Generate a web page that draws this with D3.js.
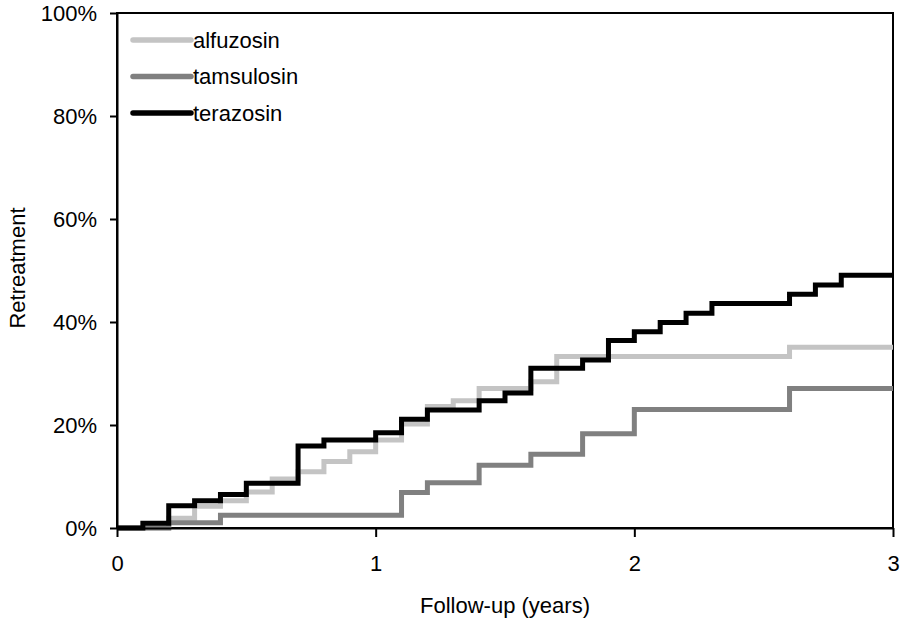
<!DOCTYPE html>
<html><head><meta charset="utf-8">
<script src="https://cdn.jsdelivr.net/npm/d3@7"></script>
<style>body{margin:0;background:#fff}svg{display:block}text{font-family:"Liberation Sans",Arial,sans-serif;fill:#000}</style>
</head><body><svg id="c" width="900" height="620"></svg>
<script>
const seriesNames = ["alfuzosin", "tamsulosin", "terazosin"];
const alfuzosinT = [0,0.2,0.3,0.4,0.5,0.6,0.7,0.8,0.9,1.0,1.1,1.2,1.3,1.4,1.6,1.7,2.6,3.0];
const alfuzosinV = [0,1.9,4.2,5.3,7.0,9.5,10.9,12.9,14.8,17.1,20.2,23.6,24.7,27.1,28.4,33.3,35.1,35.1];
const tamsulosinT = [0,0.2,0.4,1.1,1.2,1.4,1.6,1.8,2.0,2.6,3.0];
const tamsulosinV = [0,1.0,2.5,6.9,8.8,12.2,14.3,18.3,23.0,27.1,27.1];
const terazosinT = [0,0.1,0.2,0.3,0.4,0.5,0.7,0.8,1.0,1.1,1.2,1.4,1.5,1.6,1.8,1.9,2.0,2.1,2.2,2.3,2.6,2.7,2.8,3.0];
const terazosinV = [0,0.9,4.3,5.3,6.5,8.7,15.9,17.1,18.5,21.1,22.9,24.7,26.2,31.0,32.6,36.4,38.1,39.9,41.7,43.6,45.4,47.2,49.1,49.1];
const xTicks = [0,1,2,3];
const yTicks = [0,20,40,60,80,100];

const colors = {alfuzosin:"#c4c4c4", tamsulosin:"#808080", terazosin:"#000"};
const data = {
  alfuzosin: alfuzosinT.map((t,i)=>[t,alfuzosinV[i]]),
  tamsulosin: tamsulosinT.map((t,i)=>[t,tamsulosinV[i]]),
  terazosin: terazosinT.map((t,i)=>[t,terazosinV[i]])
};
const L=117,R=893,T=13,B=528;
const svg=d3.select("#c");
const x=d3.scaleLinear().domain([0,3]).range([L,R]);
const y=d3.scaleLinear().domain([0,100]).range([B,T]);
const line=d3.line().x(d=>x(d[0])).y(d=>y(d[1])).curve(d3.curveStepAfter);

svg.append("rect").attr("x",L).attr("y",T).attr("width",R-L).attr("height",B-T)
  .attr("fill","none").attr("stroke","#000").attr("stroke-width",2);

seriesNames.forEach(k=>{
  svg.append("path").datum(data[k]).attr("d",line).attr("fill","none")
    .attr("stroke",colors[k]).attr("stroke-width",5).attr("stroke-linejoin","miter").attr("stroke-linecap","butt");
});

const xa=svg.append("g").attr("transform",`translate(0,${B})`)
  .call(d3.axisBottom(x).tickValues(xTicks).tickFormat(d3.format("d")).tickSize(9).tickPadding(18).tickSizeOuter(0));
const ya=svg.append("g").attr("transform",`translate(${L},0)`)
  .call(d3.axisLeft(y).tickValues(yTicks).tickFormat(d=>d+"%").tickSize(7).tickPadding(13).tickSizeOuter(0));
[xa,ya].forEach(g=>{
  g.select(".domain").attr("stroke","#000").attr("stroke-width",2);
  g.selectAll(".tick line").attr("stroke","#000").attr("stroke-width",2);
  g.selectAll(".tick text").attr("font-size",22).attr("fill","#000").style("font-family",'"Liberation Sans",Arial,sans-serif');
});
ya.selectAll(".tick text").attr("dy","0.36em");

svg.append("text").attr("x",505).attr("y",613).attr("text-anchor","middle").attr("font-size",22).text("Follow-up (years)");
svg.append("text").attr("transform","translate(25,268) rotate(-90)").attr("text-anchor","middle").attr("font-size",22).text("Retreatment");

const lg=svg.append("g");
seriesNames.forEach((k,i)=>{
  const yy=40+i*36.5;
  lg.append("line").attr("x1",133).attr("x2",191).attr("y1",yy).attr("y2",yy)
    .attr("stroke",colors[k]).attr("stroke-width",5.5).attr("stroke-linecap","round");
  lg.append("text").attr("x",193).attr("y",yy).attr("dy","0.36em").attr("font-size",22).text(k);
});
</script></body></html>
